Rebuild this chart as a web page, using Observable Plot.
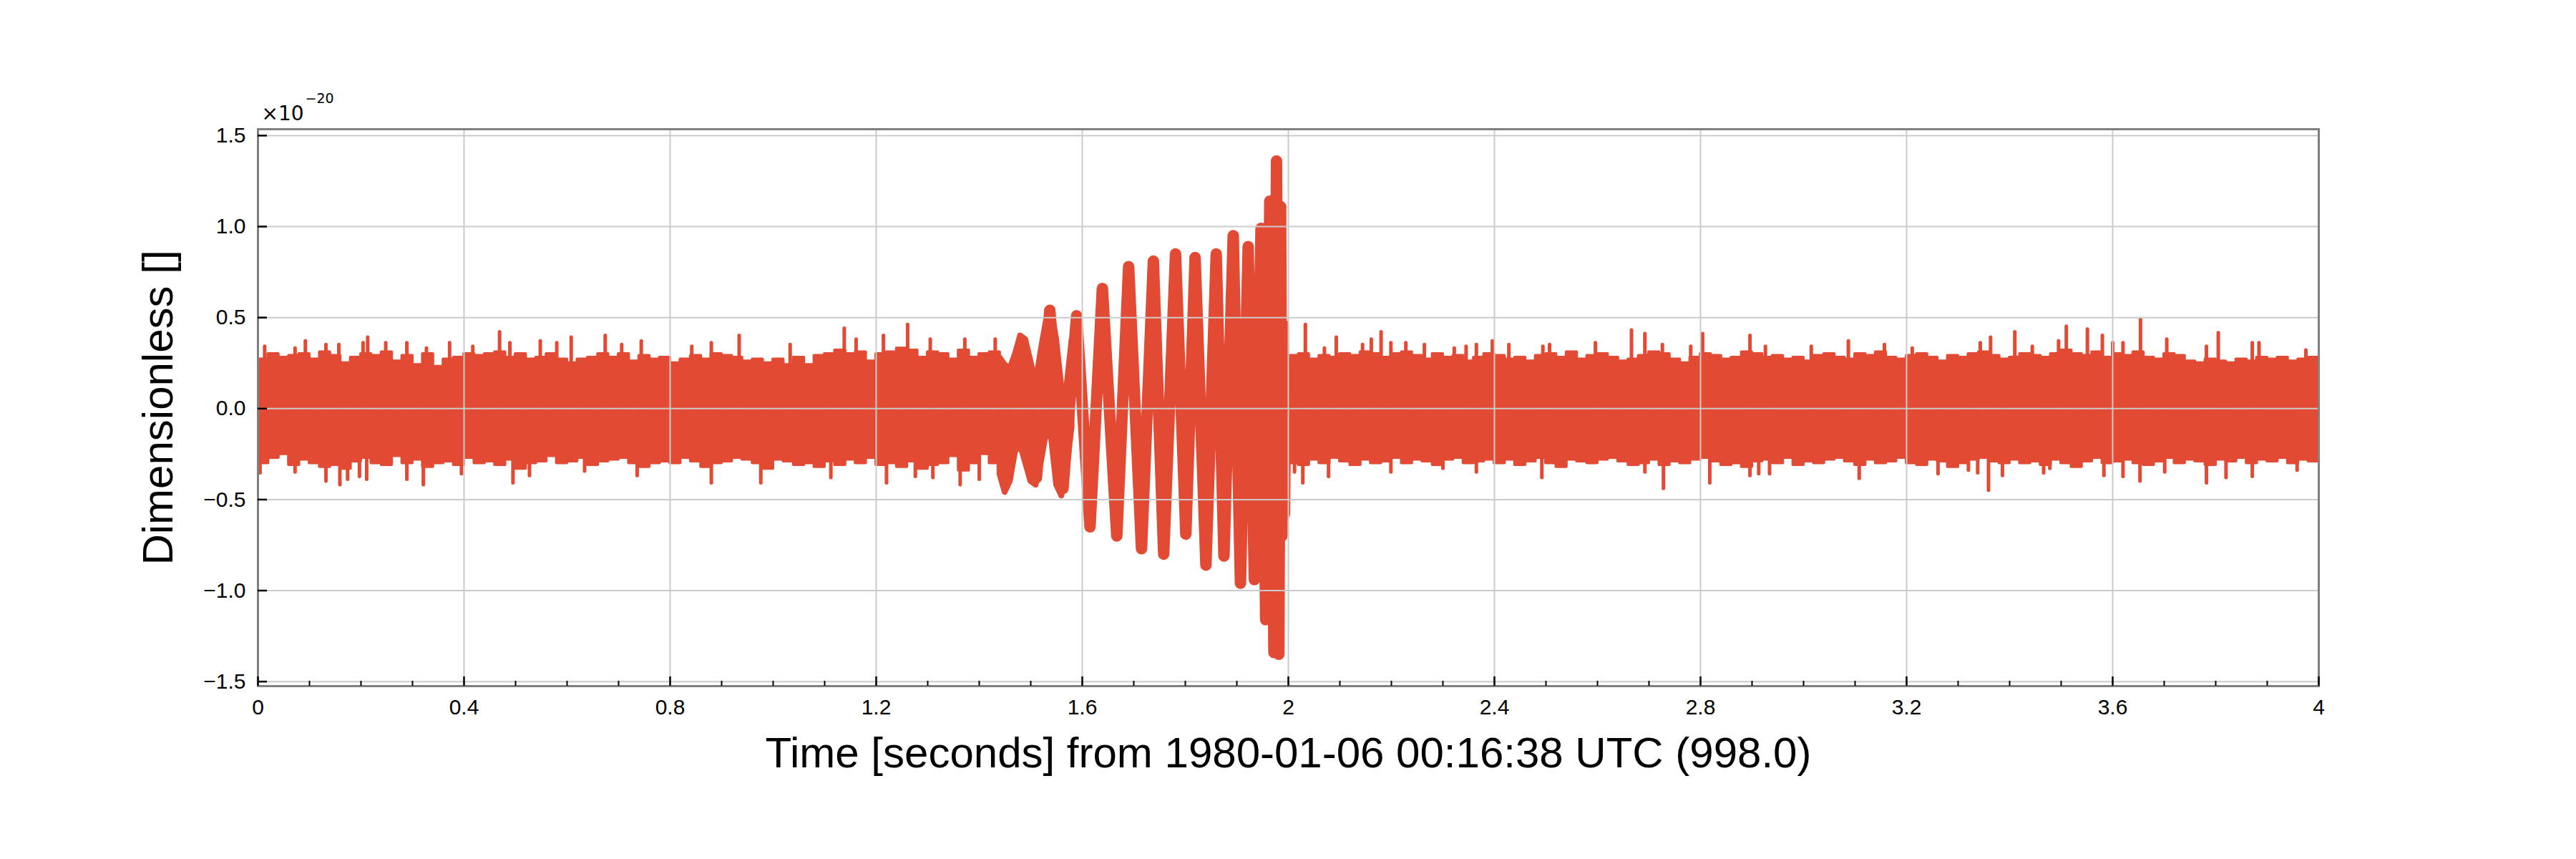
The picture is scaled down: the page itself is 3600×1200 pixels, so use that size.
<!DOCTYPE html>
<html><head><meta charset="utf-8">
<script src="https://cdn.jsdelivr.net/npm/d3@7"></script>
<script src="https://cdn.jsdelivr.net/npm/@observablehq/plot@0.6"></script>
<style>body{margin:0;background:#fff}</style>
</head><body>
<script>
// ---- data (values in units of 1e-20) ----
const binWidth = 0.02;
const bandAStart = 0;
const bandAUpper = [0.27,0.30,0.28,0.29,0.30,0.27,0.31,0.29,0.25,0.28,
 0.30,0.29,0.31,0.26,0.29,0.24,0.30,0.23,0.27,0.28,
 0.30,0.29,0.30,0.31,0.28,0.30,0.27,0.28,0.30,0.27,
 0.25,0.27,0.28,0.30,0.28,0.30,0.26,0.29,0.27,0.28,
 0.25,0.27,0.29,0.27,0.30,0.29,0.28,0.26,0.27,0.25,
 0.27,0.24,0.28,0.24,0.29,0.30,0.32,0.30,0.31,0.26,
 0.30,0.31,0.33,0.32,0.28,0.31,0.30,0.27,0.32,0.28,
 0.30,0.31];
const bandALower = [-0.30,-0.27,-0.25,-0.31,-0.28,-0.30,-0.32,-0.31,-0.33,-0.29,
 -0.27,-0.30,-0.31,-0.26,-0.30,-0.28,-0.32,-0.30,-0.29,-0.31,
 -0.27,-0.30,-0.29,-0.31,-0.28,-0.33,-0.30,-0.29,-0.26,-0.30,
 -0.29,-0.27,-0.31,-0.29,-0.28,-0.27,-0.30,-0.32,-0.30,-0.29,
 -0.30,-0.27,-0.29,-0.32,-0.30,-0.29,-0.27,-0.28,-0.30,-0.33,
 -0.28,-0.29,-0.31,-0.30,-0.32,-0.29,-0.31,-0.28,-0.30,-0.27,
 -0.31,-0.30,-0.32,-0.29,-0.33,-0.31,-0.30,-0.26,-0.34,-0.30,
 -0.25,-0.30];
const transTime  = [1.44,1.45,1.46,1.47,1.48,1.49,1.50,1.51,1.52,1.53,1.54,1.55,1.56,1.57,1.58];
const transUpper = [0.28,0.24,0.22,0.30,0.40,0.38,0.26,0.14,0.32,0.48,0.55,0.38,0.12,0.12,0.38];
const transLower = [-0.36,-0.46,-0.40,-0.24,-0.20,-0.30,-0.40,-0.42,-0.30,-0.14,-0.16,-0.42,-0.48,-0.34,-0.10];
const chirpTime  = [1.455,1.483,1.511,1.537,1.5625,1.589,1.615,1.639,1.667,1.690,1.715,1.738,1.758,1.781,1.801,1.819,1.840,1.860,1.875,1.893,1.907,1.922,1.934,1.947,1.956,1.964,1.972,1.977,1.9815,1.985,1.9875,1.990,1.9925,1.995];
const chirpValue = [0.0,0.36,-0.38,0.54,-0.44,0.51,-0.65,0.66,-0.70,0.78,-0.77,0.81,-0.80,0.85,-0.69,0.83,-0.86,0.85,-0.81,0.95,-0.96,0.89,-0.94,0.99,-1.16,1.14,-1.34,1.36,-1.35,1.11,-0.70,0.46,-0.58,0.25];
const bandBStart = 2.0;
const bandBUpper = [0.29,0.30,0.27,0.29,0.28,0.30,0.29,0.31,0.30,0.28,
 0.30,0.31,0.29,0.27,0.30,0.28,0.29,0.26,0.28,0.30,
 0.29,0.27,0.28,0.26,0.29,0.30,0.28,0.31,0.27,0.29,
 0.30,0.28,0.26,0.27,0.29,0.31,0.30,0.27,0.25,0.28,
 0.30,0.29,0.27,0.28,0.31,0.30,0.28,0.29,0.27,0.28,
 0.26,0.29,0.30,0.28,0.27,0.30,0.29,0.31,0.28,0.27,
 0.29,0.30,0.28,0.26,0.29,0.28,0.30,0.31,0.29,0.27,
 0.28,0.30,0.29,0.28,0.30,0.32,0.30,0.29,0.31,0.28,
 0.30,0.29,0.31,0.28,0.27,0.30,0.29,0.26,0.25,0.27,
 0.26,0.25,0.27,0.26,0.28,0.27,0.28,0.26,0.27,0.28];
const bandBLower = [-0.30,-0.31,-0.28,-0.30,-0.27,-0.29,-0.31,-0.28,-0.30,-0.29,
 -0.27,-0.30,-0.28,-0.29,-0.31,-0.28,-0.27,-0.30,-0.29,-0.28,
 -0.30,-0.28,-0.31,-0.29,-0.27,-0.30,-0.32,-0.28,-0.29,-0.30,
 -0.28,-0.27,-0.29,-0.31,-0.30,-0.28,-0.31,-0.29,-0.30,-0.28,
 -0.27,-0.29,-0.31,-0.30,-0.32,-0.29,-0.28,-0.30,-0.27,-0.31,
 -0.29,-0.30,-0.28,-0.27,-0.29,-0.31,-0.28,-0.30,-0.29,-0.27,
 -0.30,-0.31,-0.28,-0.29,-0.32,-0.30,-0.28,-0.27,-0.29,-0.30,
 -0.28,-0.30,-0.29,-0.31,-0.28,-0.30,-0.32,-0.29,-0.27,-0.30,
 -0.29,-0.28,-0.30,-0.31,-0.29,-0.27,-0.30,-0.28,-0.29,-0.31,
 -0.28,-0.29,-0.27,-0.30,-0.28,-0.29,-0.27,-0.30,-0.28,-0.29];
const spikeUpTime = [0.013,0.072,0.092,0.132,0.157,0.204,0.213,0.248,0.289,0.327,0.372,0.417,0.469,0.489,0.548,0.580,0.608,0.674,0.706,0.744,0.842,0.880,0.934,1.033,1.138,1.161,1.214,1.261,1.305,1.372,1.431,
 2.033,2.070,2.093,2.144,2.161,2.180,2.199,2.228,2.264,2.322,2.345,2.365,2.396,2.428,2.494,2.507,2.596,2.666,2.692,2.726,2.781,2.804,2.896,2.926,3.015,3.087,3.157,3.211,3.343,3.363,3.410,3.444,3.495,3.510,3.551,3.580,3.600,3.620,3.654,3.705,3.782,3.805,3.871,3.884,3.975];
const spikeUpValue = [0.34,0.33,0.37,0.35,0.35,0.36,0.39,0.36,0.36,0.33,0.36,0.34,0.42,0.36,0.37,0.36,0.39,0.40,0.35,0.37,0.34,0.36,0.40,0.35,0.44,0.38,0.40,0.46,0.38,0.38,0.38,
 0.46,0.33,0.39,0.35,0.38,0.42,0.36,0.36,0.35,0.33,0.34,0.35,0.37,0.35,0.34,0.35,0.36,0.43,0.41,0.35,0.34,0.41,0.40,0.34,0.34,0.37,0.35,0.33,0.36,0.39,0.42,0.34,0.37,0.45,0.435,0.40,0.36,0.36,0.49,0.38,0.34,0.415,0.36,0.36,0.32];
const spikeDownTime = [0.004,0.072,0.132,0.159,0.174,0.197,0.211,0.289,0.321,0.395,0.495,0.527,0.634,0.736,0.880,0.976,1.112,1.220,1.276,1.310,1.363,1.400,
 2.012,2.028,2.078,2.199,2.300,2.365,2.492,2.692,2.728,2.818,2.896,2.913,2.934,3.108,3.261,3.320,3.338,3.359,3.386,3.466,3.478,3.583,3.620,3.653,3.701,3.782,3.820,3.871,3.958];
const spikeDownValue = [-0.355,-0.35,-0.40,-0.42,-0.39,-0.375,-0.39,-0.39,-0.42,-0.36,-0.41,-0.37,-0.345,-0.37,-0.41,-0.41,-0.38,-0.41,-0.375,-0.38,-0.42,-0.39,
 -0.35,-0.41,-0.375,-0.35,-0.33,-0.35,-0.38,-0.35,-0.44,-0.41,-0.37,-0.36,-0.36,-0.385,-0.36,-0.34,-0.355,-0.45,-0.37,-0.355,-0.33,-0.37,-0.375,-0.40,-0.35,-0.41,-0.38,-0.375,-0.34];

const xMajorTicks = [0,0.4,0.8,1.2,1.6,2.0,2.4,2.8,3.2,3.6,4.0];
const xTickLabels = ["0","0.4","0.8","1.2","1.6","2","2.4","2.8","3.2","3.6","4"];
const yMajorTicks = [-1.5,-1.0,-0.5,0,0.5,1.0,1.5];
const yTickLabels = ["\u22121.5","\u22121.0","\u22120.5","0.0","0.5","1.0","1.5"];
const xLabel = "Time [seconds] from 1980-01-06 00:16:38 UTC (998.0)";
const yLabel = "Dimensionless []";
const offsetBase = "\u00d710";
const offsetExp = "\u221220";

// ---- build tables ----
function bandRows(start, up, lo) {
  const rows = up.map((u, i) => ({t: start + i * binWidth, hi: u, lo: lo[i]}));
  rows.push({t: start + up.length * binWidth, hi: up[up.length - 1], lo: lo[lo.length - 1]});
  return rows;
}
const bandA = bandRows(bandAStart, bandAUpper, bandALower);
const bandB = bandRows(bandBStart, bandBUpper, bandBLower);
const trans = transTime.map((t, i) => ({t, hi: transUpper[i], lo: transLower[i]}));
const chirp = chirpTime.map((t, i) => ({t, v: chirpValue[i]}));
const spikesUp = spikeUpTime.map((t, i) => ({t, v: spikeUpValue[i]}));
const spikesDown = spikeDownTime.map((t, i) => ({t, v: spikeDownValue[i]}));
const xMinorTicks = d3.range(41).map(i => i / 10).filter(v => Math.round(v * 10) % 4 !== 0);

const RED = "#e24a33";
const W = 3600, H = 1200, ML = 360, MR = 360, MT = 180, MB = 242;
const innerW = W - ML - MR, innerH = H - MT - MB;

const chart = Plot.plot({
  width: W, height: H,
  marginLeft: ML, marginRight: MR, marginTop: MT, marginBottom: MB,
  style: {background: "white", fontFamily: "Liberation Sans, Arial, sans-serif", color: "black"},
  x: {domain: [0, 4], axis: null},
  y: {domain: [-1.525, 1.535], axis: null},
  marks: [
    Plot.areaY(bandA, {x: "t", y1: "lo", y2: "hi", curve: "step-after", fill: RED, stroke: RED, strokeWidth: 4, strokeLinejoin: "round", clip: true}),
    Plot.areaY(bandB, {x: "t", y1: "lo", y2: "hi", curve: "step-after", fill: RED, stroke: RED, strokeWidth: 4, strokeLinejoin: "round", clip: true}),
    Plot.areaY(trans, {x: "t", y1: "lo", y2: "hi", fill: RED, stroke: RED, strokeWidth: 8, strokeLinejoin: "round", clip: true}),
    Plot.ruleX(spikesUp, {x: "t", y1: 0, y2: "v", stroke: RED, strokeWidth: 5, strokeLinecap: "round", clip: true}),
    Plot.ruleX(spikesDown, {x: "t", y1: 0, y2: "v", stroke: RED, strokeWidth: 5, strokeLinecap: "round", clip: true}),
    Plot.line(chirp, {x: "t", y: "v", stroke: RED, strokeWidth: 16, strokeLinejoin: "round", strokeLinecap: "round", clip: true}),
    // grid above data
    Plot.ruleX(xMajorTicks, {x: d => d, stroke: "#cbcbcb", strokeWidth: 2}),
    Plot.ruleY(yMajorTicks, {y: d => d, stroke: "#cbcbcb", strokeWidth: 2}),
    Plot.frame({stroke: "#808080", strokeWidth: 3}),
    // inward ticks
    Plot.tickX(xMajorTicks, {x: d => d, insetTop: innerH - 13, stroke: "black", strokeWidth: 2.5}),
    Plot.tickX(xMinorTicks, {x: d => d, insetTop: innerH - 7, stroke: "black", strokeWidth: 2}),
    Plot.tickY(yMajorTicks, {y: d => d, insetRight: innerW - 13, stroke: "black", strokeWidth: 2.5}),
    // tick labels
    Plot.text(xMajorTicks, {x: d => d, frameAnchor: "bottom", dy: 30, text: (d, i) => xTickLabels[i], fontSize: 30, textAnchor: "middle", lineAnchor: "middle", fill: "black"}),
    Plot.text(yMajorTicks, {y: d => d, frameAnchor: "left", dx: -17, text: (d, i) => yTickLabels[i], fontSize: 30, textAnchor: "end", lineAnchor: "middle", fill: "black"}),
    // offset text
    Plot.text([offsetBase], {frameAnchor: "top-left", dx: 5, dy: -13, text: d => d, fontSize: 28, fontFamily: "DejaVu Sans", textAnchor: "start", lineAnchor: "bottom", fill: "black"}),
    Plot.text([offsetExp], {frameAnchor: "top-left", dx: 66, dy: -37, text: d => d, fontSize: 19, fontFamily: "DejaVu Sans", textAnchor: "start", lineAnchor: "bottom", fill: "black"}),
    // axis labels
    Plot.text([xLabel], {frameAnchor: "bottom", dy: 94, text: d => d, fontSize: 60, textAnchor: "middle", lineAnchor: "middle", fill: "black"}),
    Plot.text([yLabel], {frameAnchor: "left", dx: -139, rotate: -90, text: d => d, fontSize: 60, textAnchor: "middle", lineAnchor: "middle", fill: "black"})
  ]
});
document.body.appendChild(chart);
</script>
</body></html>
